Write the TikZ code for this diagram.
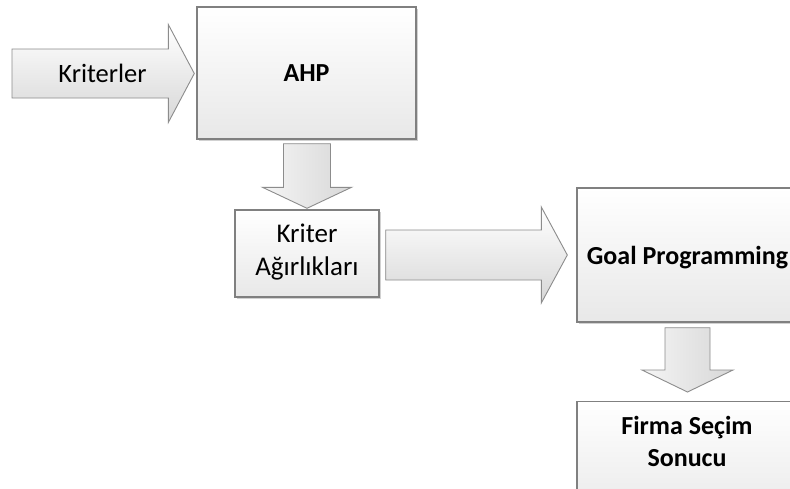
\documentclass[tikz,border=0pt]{standalone}
\usepackage{fontspec}
\setmainfont{Carlito}
\usetikzlibrary{calc,shadows}

\definecolor{edge}{RGB}{128,128,128}
\definecolor{arrowedge}{RGB}{140,140,140}
\definecolor{fillbot}{RGB}{232,232,232}
\definecolor{arrowbot}{RGB}{215,215,215}

\tikzset{
  box/.style={draw=edge, line width=1.4pt, top color=white, bottom color=fillbot,
    align=center, inner sep=0pt,
    drop shadow={shadow xshift=1.6pt, shadow yshift=-1.6pt, fill=black, opacity=0.18}},
  blockarrow/.style={draw=arrowedge, line width=0.9pt, line join=miter},
  harrowfill/.style={top color=white, bottom color=arrowbot},
  varrowfill/.style={left color=white!96!black, right color=arrowbot},
  plaintext/.style={font=\fontsize{27}{33}\selectfont, align=center, inner sep=0pt},
  boldtext/.style={font=\fontsize{26}{32}\selectfont\bfseries, align=center, inner sep=0pt},
}

% horizontal block arrow: #2 tail, #3 tip, #4 half body, #5 half head, #6 head length
\newcommand\hblock[6][]{%
  \path[blockarrow,harrowfill,#1]
    ($(#2)+(0,-#4)$) -- ($(#3)+(-#6,-#4)$) -- ($(#3)+(-#6,-#5)$) -- (#3)
    -- ($(#3)+(-#6,#5)$) -- ($(#3)+(-#6,#4)$) -- ($(#2)+(0,#4)$) -- cycle;}
% downward block arrow: same arguments
\newcommand\vblock[6][]{%
  \path[blockarrow,varrowfill,#1]
    ($(#2)+(-#4,0)$) -- ($(#3)+(-#4,-#6)$) -- ($(#3)+(-#5,-#6)$) -- (#3)
    -- ($(#3)+(#5,-#6)$) -- ($(#3)+(#4,-#6)$) -- ($(#2)+(#4,0)$) -- cycle;}

\begin{document}
\begin{tikzpicture}[x=1pt,y=-1pt]
  \useasboundingbox (0,0) rectangle (790,488);
  \clip (0,0) rectangle (790,488);
  \fill[white] (0,0) rectangle (790,488);

  % process boxes
  \node[box, minimum width=219pt, minimum height=132pt, boldtext, text depth=0pt]
    (ahp) at (306.5,73) {AHP};
  \node[box, minimum width=144pt, minimum height=87pt] (weights) at (307,253.5) {};
  \node[plaintext] (weightstext) at (307,252) {Kriter\\Ağırlıkları};
  \node[box, minimum width=221pt, minimum height=134pt, boldtext, text depth=0pt]
    (gp) at (687.5,255) {Goal Programming};
  \node[box, minimum width=221pt, minimum height=120pt, anchor=north]
    (result) at (687.5,401) {};
  \node[boldtext] (resulttext) at (687,441) {Firma Seçim\\Sonucu};

  % arrow anchors
  \coordinate (critstart) at (12,73.5);
  \coordinate (critend) at ($(ahp.west)+(-2,0.5)$);
  \coordinate (ahpout) at ($(ahp.south)+(0.5,4)$);
  \coordinate (weightsin) at ($(weights.north)+(0,-1)$);
  \coordinate (weightsout) at ($(weights.east)+(6,1.5)$);
  \coordinate (gpin) at ($(gp.west)+(-9,0)$);
  \coordinate (gpout) at ($(gp.south)+(0,5)$);
  \coordinate (resultin) at ($(result.north)+(0,-9)$);

  % block arrows
  \hblock{critstart}{critend}{24.5}{49}{26}
  \node[plaintext, font=\fontsize{26.5}{33}\selectfont, text depth=0pt]
    (critlabel) at (102.5,73) {Kriterler};
  \vblock{ahpout}{weightsin}{23.5}{44.5}{21}
  \hblock{weightsout}{gpin}{25}{48}{26}
  \vblock{gpout}{resultin}{22.5}{45.5}{22}
\end{tikzpicture}
\end{document}
